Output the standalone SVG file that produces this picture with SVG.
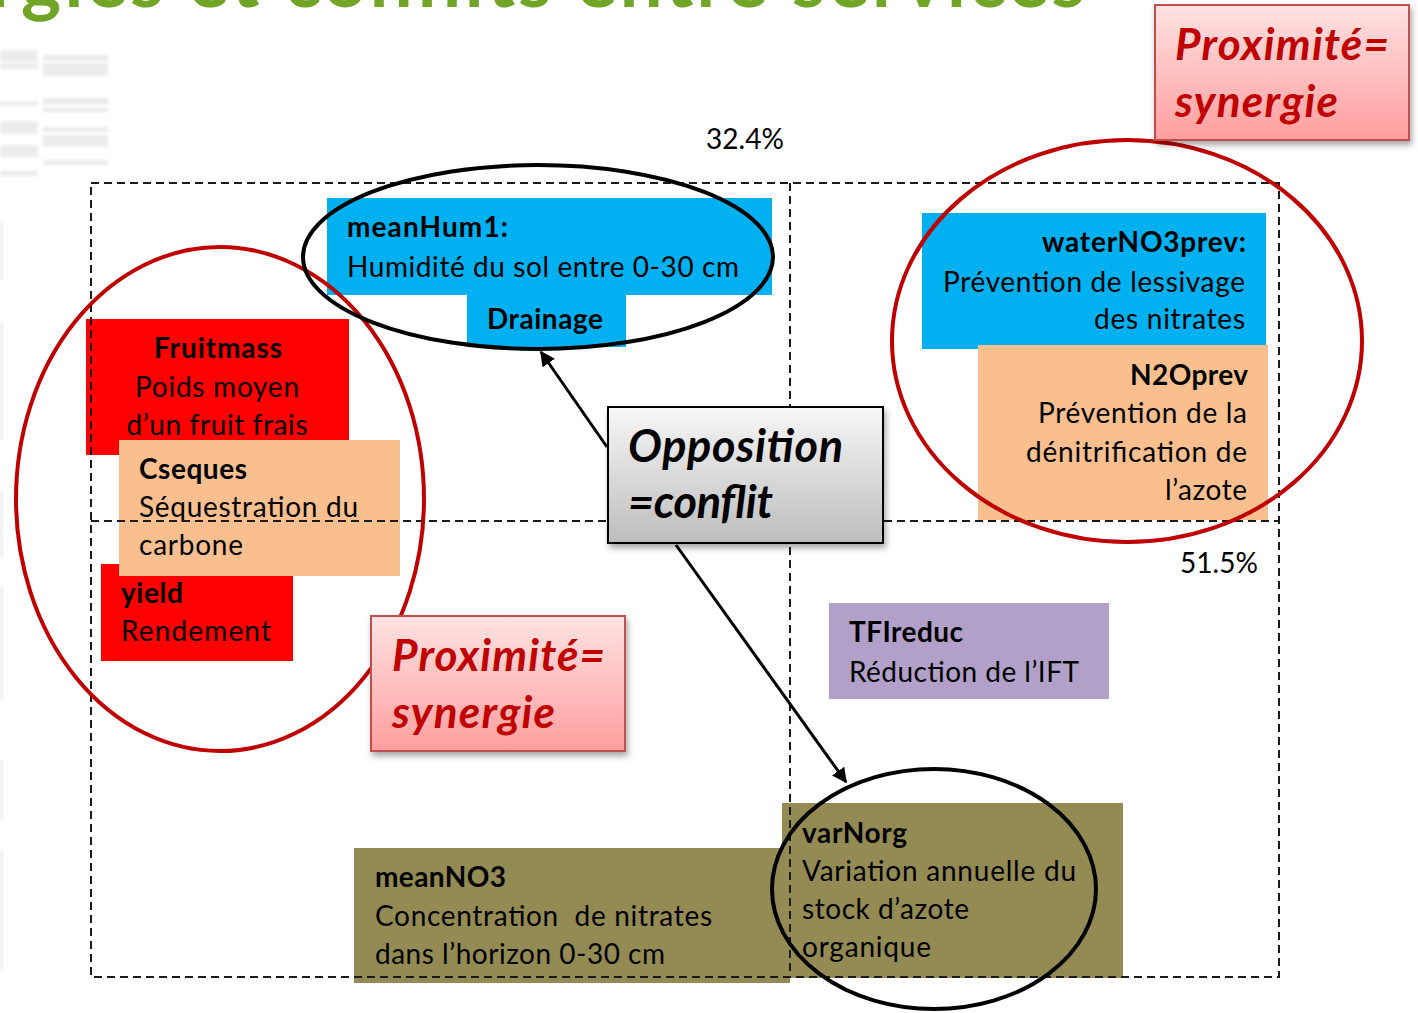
<svg xmlns="http://www.w3.org/2000/svg" width="1418" height="1013" viewBox="0 0 1418 1013">
  <defs>
    <linearGradient id="gradPink" x1="0" y1="0" x2="0" y2="1">
      <stop offset="0" stop-color="#ffe2e2"/>
      <stop offset="1" stop-color="#ff9e9e"/>
    </linearGradient>
    <linearGradient id="gradGrey" x1="0" y1="0" x2="0" y2="1">
      <stop offset="0" stop-color="#f7f7f7"/>
      <stop offset="1" stop-color="#bdbdbd"/>
    </linearGradient>
    <filter id="shadow" x="-10%" y="-10%" width="125%" height="130%">
      <feDropShadow dx="2" dy="4" stdDeviation="3" flood-color="#000" flood-opacity="0.35"/>
    </filter>
    <filter id="soft" x="-20%" y="-20%" width="140%" height="140%">
      <feGaussianBlur stdDeviation="1.5"/>
    </filter>
    <marker id="arrow" viewBox="0 0 10 10" refX="9" refY="5" markerWidth="5" markerHeight="5" orient="auto-start-reverse" markerUnits="strokeWidth">
      <path d="M0,0 L10,5 L0,10 z" fill="#000"/>
    </marker>
    <style>
      text { font-family: Lato, "Open Sans", "Liberation Sans", sans-serif; fill: #000; }
      .body { font-size: 28px; }
      .b { font-weight: bold; }
      .syn { font-size: 44px; font-weight: bold; font-style: italic; fill: #c00000; }
      .opp { font-size: 45px; font-weight: bold; font-style: italic; fill: #000; }
      .grid { fill: none; stroke: #1a1a1a; stroke-width: 2; stroke-dasharray: 8 5; }
      .ringRed { fill: none; stroke: #c00000; stroke-width: 4; }
      .ringBlack { fill: none; stroke: #000; stroke-width: 4; }
      .cyan { fill: #00b0f0; }
      .red { fill: #ff0000; }
      .peach { fill: #f9bf8f; }
      .olive { fill: #948a54; }
      .lilac { fill: #b1a0c7; }
      .synBox { fill: url(#gradPink); stroke: #c0504d; stroke-width: 2; filter: url(#shadow); }
      .oppBox { fill: url(#gradGrey); stroke: #000; stroke-width: 2; filter: url(#shadow); }
      .conn { stroke: #000; stroke-width: 3; fill: none; marker-end: url(#arrow); }
      .ghost { fill: #ececec; filter: url(#soft); }
    </style>
  </defs>

  <rect width="1418" height="1013" fill="#fff"/>

  <!-- faded slide remnants in the background -->
  <g id="background-remnants">
    <rect class="ghost" x="0" y="50" width="38" height="12"/>
    <rect class="ghost" x="0" y="63" width="38" height="6"/>
    <rect class="ghost" x="43" y="55" width="65" height="6"/>
    <rect class="ghost" x="43" y="63" width="65" height="13"/>
    <rect class="ghost" x="0" y="101" width="38" height="5"/>
    <rect class="ghost" x="43" y="98" width="65" height="7"/>
    <rect class="ghost" x="43" y="107" width="65" height="5"/>
    <rect class="ghost" x="0" y="121" width="38" height="13"/>
    <rect class="ghost" x="43" y="127" width="65" height="5"/>
    <rect class="ghost" x="43" y="135" width="65" height="12"/>
    <rect class="ghost" x="0" y="145" width="38" height="12"/>
    <rect class="ghost" x="43" y="160" width="65" height="5"/>
    <rect class="ghost" x="0" y="171" width="38" height="5"/>
    <rect class="ghost" x="0" y="222" width="3" height="58"/>
    <rect class="ghost" x="0" y="322" width="3" height="118"/>
    <rect class="ghost" x="0" y="490" width="3" height="68"/>
    <rect class="ghost" x="0" y="585" width="3" height="115"/>
    <rect class="ghost" x="0" y="760" width="3" height="60"/>
    <rect class="ghost" x="0" y="850" width="3" height="120"/>
  </g>

  <!-- slide title, running off the top edge -->
  <text id="title" x="1085" y="7" text-anchor="end" textLength="1095" style="font-size:76px;font-weight:bold;fill:#72a428">rgies et conflits entre services</text>

  <!-- indicator boxes -->
  <g id="node-meanHum1">
    <rect class="cyan" x="327" y="198" width="445" height="97"/>
    <rect class="cyan" x="467" y="294" width="159" height="53"/>
    <text class="body b" x="347" y="237" textLength="161">meanHum1:</text>
    <text class="body" x="347" y="277" textLength="392">Humidité du sol entre 0-30 cm</text>
    <text class="body b" x="545" y="329" text-anchor="middle" textLength="116">Drainage</text>
  </g>

  <g id="node-Fruitmass">
    <rect class="red" x="86" y="319" width="263" height="136"/>
    <text class="body b" x="218" y="358" text-anchor="middle" textLength="128">Fruitmass</text>
    <text class="body" x="217" y="397" text-anchor="middle" textLength="164">Poids moyen</text>
    <text class="body" x="217" y="435" text-anchor="middle" textLength="181">d’un fruit frais</text>
  </g>

  <g id="node-yield">
    <rect class="red" x="101" y="564" width="192" height="97"/>
    <text class="body b" x="121" y="603" textLength="62">yield</text>
    <text class="body" x="121" y="641" textLength="150">Rendement</text>
  </g>

  <g id="node-Cseques">
    <rect class="peach" x="119" y="440" width="281" height="136"/>
    <text class="body b" x="139" y="479" textLength="108">Cseques</text>
    <text class="body" x="139" y="517" textLength="219">Séquestration du</text>
    <text class="body" x="139" y="555" textLength="104">carbone</text>
  </g>

  <g id="node-waterNO3prev">
    <rect class="cyan" x="922" y="213" width="344" height="136"/>
    <text class="body b" x="1246" y="252" text-anchor="end" textLength="204">waterNO3prev:</text>
    <text class="body" x="1245" y="292" text-anchor="end" textLength="302">Prévention de lessivage</text>
    <text class="body" x="1245" y="329" text-anchor="end" textLength="151">des nitrates</text>
  </g>

  <g id="node-N2Oprev">
    <rect class="peach" x="978" y="345" width="290" height="175"/>
    <text class="body b" x="1248" y="385" text-anchor="end" textLength="118">N2Oprev</text>
    <text class="body" x="1247" y="423" text-anchor="end" textLength="209">Prévention de la</text>
    <text class="body" x="1247" y="462" text-anchor="end" textLength="221">dénitrification de</text>
    <text class="body" x="1247" y="500" text-anchor="end" textLength="82">l’azote</text>
  </g>

  <g id="node-TFIreduc">
    <rect class="lilac" x="829" y="603" width="280" height="96"/>
    <text class="body b" x="849" y="642" textLength="114">TFIreduc</text>
    <text class="body" x="849" y="682" textLength="230">Réduction de l’IFT</text>
  </g>

  <g id="node-meanNO3">
    <rect class="olive" x="354" y="848" width="436" height="135"/>
    <text class="body b" x="375" y="887" textLength="131">meanNO3</text>
    <text class="body" x="375" y="926" textLength="337" xml:space="preserve">Concentration  de nitrates</text>
    <text class="body" x="375" y="964" textLength="290">dans l’horizon 0-30 cm</text>
  </g>

  <g id="node-varNorg">
    <rect class="olive" x="782" y="803" width="341" height="175"/>
    <text class="body b" x="802" y="843" textLength="105">varNorg</text>
    <text class="body" x="802" y="881" textLength="274">Variation annuelle du</text>
    <text class="body" x="802" y="919" textLength="167">stock d’azote</text>
    <text class="body" x="802" y="957" textLength="129">organique</text>
  </g>

  <!-- quadrant grid -->
  <g id="grid">
    <rect class="grid" x="91" y="183" width="1188" height="794"/>
    <line class="grid" x1="790" y1="183" x2="790" y2="977"/>
    <line class="grid" x1="91" y1="521" x2="1279" y2="521"/>
    <text class="body" x="706" y="149" textLength="78">32.4%</text>
    <text class="body" x="1180" y="573" textLength="78">51.5%</text>
  </g>

  <!-- groupings -->
  <g id="rings">
    <ellipse class="ringRed" cx="220" cy="499" rx="204" ry="252"/>
    <ellipse class="ringRed" cx="1127" cy="341" rx="235" ry="201"/>
    <ellipse class="ringBlack" cx="538" cy="257" rx="235" ry="92"/>
    <ellipse class="ringBlack" cx="934" cy="889" rx="162" ry="120"/>
  </g>

  <g id="node-synergie-left">
    <rect class="synBox" x="371" y="616" width="254" height="135"/>
    <text class="syn" x="392" y="671" textLength="213">Proximité=</text>
    <text class="syn" x="392" y="728" textLength="163">synergie</text>
  </g>

  <g id="node-synergie-right">
    <rect class="synBox" x="1155" y="5" width="254" height="135"/>
    <text class="syn" x="1175" y="60" textLength="214">Proximité=</text>
    <text class="syn" x="1175" y="117" textLength="163">synergie</text>
  </g>

  <g id="node-conflit">
    <rect class="oppBox" x="608" y="407" width="275" height="136"/>
    <text class="opp" x="628" y="462" textLength="215">Opposition</text>
    <text class="opp" x="628" y="518" textLength="145">=conflit</text>
  </g>

  <!-- connectors -->
  <g id="connectors">
    <line class="conn" x1="607" y1="447" x2="541" y2="352"/>
    <line class="conn" x1="676" y1="545" x2="846" y2="782"/>
  </g>
</svg>
